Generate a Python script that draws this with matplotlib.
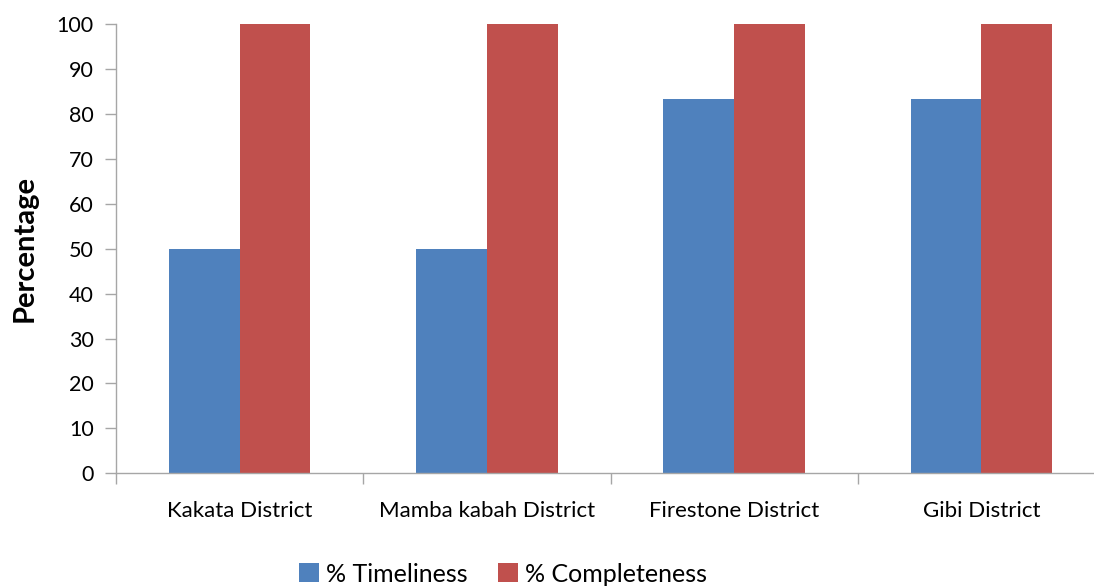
import matplotlib
matplotlib.use("Agg")
import matplotlib.pyplot as plt
import numpy as np

districts = ["Kakata District", "Mamba kabah District", "Firestone District", "Gibi District"]
timeliness = [50, 50, 83.33, 83.33]
completeness = [100, 100, 100, 100]
series_names = ["% Timeliness", "% Completeness"]
yticks = [0, 10, 20, 30, 40, 50, 60, 70, 80, 90, 100]

plt.rcParams["font.family"] = ["Lato", "DejaVu Sans"]

fig = plt.figure(figsize=(10.94, 5.88), dpi=100)
# plot area runs slightly past the right edge of the canvas
ax = fig.add_axes([116 / 1094, (588 - 473.3) / 588, (1105 - 116) / 1094, (473.3 - 24) / 588])

x = np.arange(len(districts))
w = 1 / 3.5
blue = "#4F81BD"
red = "#C0504D"
b1 = ax.bar(x - w / 2, timeliness, w, color=blue, label=series_names[0])
b2 = ax.bar(x + w / 2, completeness, w, color=red, label=series_names[1])

ax.set_xlim(-0.5, len(districts) - 0.5)
ax.set_ylim(0, 100)
ax.set_yticks(yticks)
ax.set_yticklabels([str(t) for t in yticks], fontsize=15.5, color="#000000")

# category labels sit between boundary ticks
ax.set_xticks(x)
ax.set_xticklabels(districts, fontsize=16)
ax.set_xticks(np.arange(-0.5, len(districts), 1.0), minor=True)
ax.tick_params(axis="x", which="major", length=0, pad=20)
ax.tick_params(axis="x", which="minor", length=8, color="#A6A6A6", width=1)
ax.tick_params(axis="y", length=8, color="#A6A6A6", width=1, pad=8)

for s in ["top", "right"]:
    ax.spines[s].set_visible(False)
for s in ["left", "bottom"]:
    ax.spines[s].set_color("#A6A6A6")
    ax.spines[s].set_linewidth(1)

ax.set_ylabel("Percentage", fontsize=21, fontweight="bold", labelpad=14)

fig.legend(handles=[b1, b2], labels=series_names, loc="center",
           bbox_to_anchor=(503 / 1094, 1 - 574 / 588), ncol=2, frameon=False,
           fontsize=18, handlelength=0.8, handleheight=0.8, handletextpad=0.3,
           columnspacing=1.2)

fig.savefig("out.png", dpi=100)
